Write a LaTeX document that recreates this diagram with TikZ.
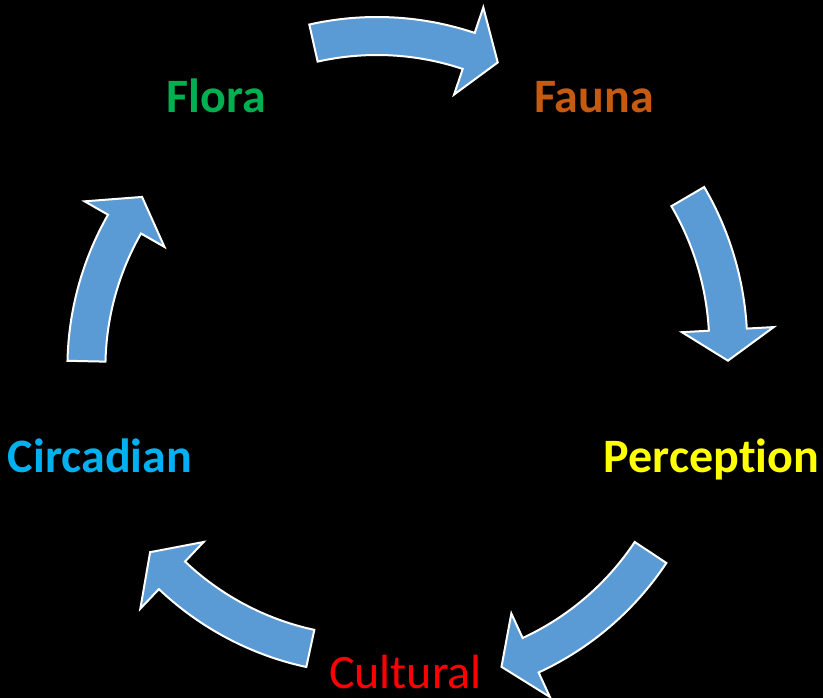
\documentclass[tikz,border=0pt]{standalone}
\usepackage{fontspec}
\setmainfont{Carlito}[Ligatures=NoCommon]
\definecolor{arrowblue}{HTML}{5B9BD5}
\definecolor{floragreen}{HTML}{00B050}
\definecolor{faunaorange}{HTML}{C55A11}
\definecolor{circblue}{HTML}{00B0F0}
\definecolor{percyellow}{HTML}{FFFF00}
\definecolor{cultred}{HTML}{FF0000}
\tikzset{
  cyclearrowstyle/.style={fill=arrowblue, draw=white, line width=2pt, line join=miter},
  lbl/.style={inner sep=0pt, anchor=base, font=\fontsize{48}{52}\selectfont\bfseries},
  lblreg/.style={inner sep=0pt, anchor=base, font=\fontsize{48}{52}\selectfont}
}
% #1,#2 centre of arc, #3 radius, #4 tail angle, #5 head base angle, #6 tip angle
\newcommand{\cyclearrow}[6]{%
  \pgfmathsetmacro{\rOut}{#3+19}%
  \pgfmathsetmacro{\rIn}{#3-19}%
  \pgfmathsetmacro{\hOut}{#3+46}%
  \pgfmathsetmacro{\hIn}{#3-46}%
  \filldraw[cyclearrowstyle] ([shift={(#1,#2)}]#4:\rOut)
    arc[start angle=#4, end angle=#5, radius=\rOut]
    -- ([shift={(#1,#2)}]#5:\hOut)
    -- ([shift={(#1,#2)}]#6:#3)
    -- ([shift={(#1,#2)}]#5:\hIn)
    -- ([shift={(#1,#2)}]#5:\rIn)
    arc[start angle=#5, end angle=#4, radius=\rIn]
    -- cycle;}
\begin{document}
\begin{tikzpicture}[x=1pt, y=1pt]
  \fill[black] (0,0) rectangle (823,698);
  \useasboundingbox (0,0) rectangle (823,698);
  % arrows
  \cyclearrow{377}{373}{289}{102.7}{71.5}{65.3}
  \cyclearrow{431.8}{351.8}{296.5}{30.3}{3.2}{-2.8}
  \cyclearrow{409}{306}{290}{-33.6}{-65.2}{-71.4}
  \cyclearrow{371.6}{333}{290}{257.8}{226.5}{220.2}
  \cyclearrow{376.4}{330.2}{290}{178.7}{150.3}{143.9}
  % labels
  \node[lbl, text=floragreen] (flora) at (216,585) {Flora};
  \node[lbl, text=faunaorange] (fauna) at (594,585) {Fauna};
  \node[lbl, text=percyellow] (perception) at (711.5,225) {Perception};
  \node[lbl, text=circblue] (circadian) at (100,225) {Circadian};
  \node[lblreg, text=cultred] (cultural) at (405.5,9) {Cultural};
\end{tikzpicture}
\end{document}
